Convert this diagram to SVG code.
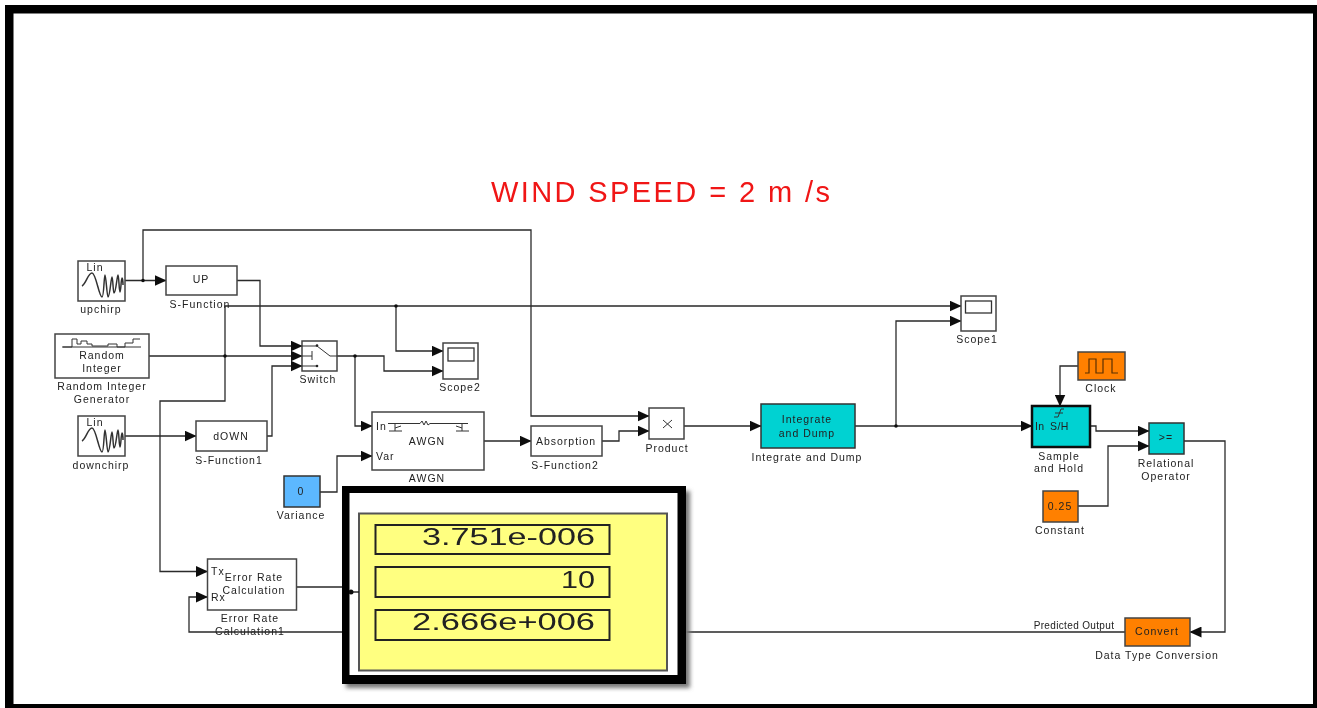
<svg xmlns="http://www.w3.org/2000/svg" xmlns:xlink="http://www.w3.org/1999/xlink" width="1317" height="708" viewBox="0 0 1317 708">
<style>
text{font-family:"Liberation Sans",Arial,sans-serif;font-size:10.5px;letter-spacing:1px;fill:#222;text-anchor:middle}
text.s{text-anchor:start}
text.n{font-size:10px;letter-spacing:.35px}
.b{fill:#fff;stroke:#444;stroke-width:1.5}
.c{fill:#00d2d2;stroke:#333;stroke-width:1.5}
.o{fill:#ff8000;stroke:#444;stroke-width:1.5}
.g{fill:none;stroke:#333;stroke-width:1}
.d{fill:#ffff80;stroke:#222;stroke-width:2}
#connectors path{fill:none;stroke:#2a2a2a;stroke-width:1.3}
#connectors path.a{marker-end:url(#ah)}
#connectors circle{fill:#111}
</style>
<defs>
<marker id="ah" markerUnits="userSpaceOnUse" markerWidth="12" markerHeight="11" refX="11.500" refY="5.500" orient="auto"><path d="M0 0L12 5.500L0 11Z" fill="#111"/></marker>
<filter id="soft" x="-2%" y="-2%" width="104%" height="104%"><feGaussianBlur stdDeviation="0.35"/></filter>
<filter id="sh" x="-5%" y="-5%" width="110%" height="110%"><feGaussianBlur stdDeviation="2"/></filter>
<path id="chirp" d="M4 25C8 23 10 12 14 12C18 12 21 36 24 36C26 36 26 14 27 14C28 14 29 36 30 36C32 36 33 16 34 16C35 16 35 32 36 32C38 32 39 14 40 14C41 14 41 31 42 31C43 31 43 17 44 17C44.500 17 45 22 45 24" fill="none" stroke="#333" stroke-width="1.500"/>
</defs>
<rect width="1317" height="708" fill="#fff"/>
<g filter="url(#soft)">
<g id="frame" fill="#000">
<rect x="5" y="5" width="1312" height="8.500"/>
<rect x="5" y="5" width="8.500" height="703"/>
<rect x="1313" y="5" width="4" height="703"/>
<rect x="5" y="704" width="1312" height="4"/>
</g>
<text id="title" x="491" y="202" class="s" style="font-size:29px;letter-spacing:2.400px;fill:#f01414">WIND SPEED = 2 m /s</text>

<g id="connectors">
<path class="a" d="M125 280.500H166"/>
<path class="a" d="M143 280.500V230H531V416H649"/>
<path class="a" d="M237 280.500H260V346H302"/>
<path class="a" d="M149 356H302"/>
<path class="a" d="M225 356V306H961"/>
<path class="a" d="M225 356V401H160V571.500H207.500"/>
<path class="a" d="M396 306V351H443"/>
<path class="a" d="M337 356H384V371H443"/>
<path class="a" d="M355 356V426H372"/>
<path class="a" d="M125 436H196"/>
<path class="a" d="M267 436H272V366H302"/>
<path class="a" d="M320 492H337V456H372"/>
<path class="a" d="M484 441H531"/>
<path class="a" d="M602 441H619V431H649"/>
<path class="a" d="M684 426H761"/>
<path class="a" d="M855 426H1032"/>
<path class="a" d="M896 426V321H961"/>
<path class="a" d="M1078 366H1060V406"/>
<path class="a" d="M1090 426H1096V431H1149"/>
<path class="a" d="M1078 506H1108V446H1149"/>
<path class="a" d="M1184 441H1225V632H1190"/>
<path class="a" d="M1125 632H189V597H207.500"/>
<path d="M296 587H345"/>
<circle cx="143" cy="280.500" r="1.800"/>
<circle cx="225" cy="356" r="1.800"/>
<circle cx="396" cy="306" r="1.800"/>
<circle cx="355" cy="356" r="1.800"/>
<circle cx="896" cy="426" r="1.800"/>
</g>

<g id="upchirp"><rect class="b" x="78" y="261" width="47" height="40"/><text x="95" y="271">Lin</text><use xlink:href="#chirp" href="#chirp" x="78" y="261"/><text x="101" y="313">upchirp</text></g>
<g id="s-function"><rect class="b" x="166" y="266" width="71" height="29"/><text x="201" y="283">UP</text><text x="200" y="308">S-Function</text></g>
<g id="random-integer"><rect class="b" x="55" y="334" width="94" height="44"/><path class="g" d="M63 347H72V339H77V344H81V341H87V344H92V346H108V344H117V347H125V343H133V339H140"/><path class="g" d="M62 347H141"/><text x="102" y="359">Random</text><text x="102" y="372">Integer</text><text x="102" y="390">Random Integer</text><text x="102" y="403">Generator</text></g>
<g id="downchirp"><rect class="b" x="78" y="416" width="47" height="40"/><text x="95" y="426">Lin</text><use xlink:href="#chirp" href="#chirp" x="78" y="416"/><text x="101" y="469">downchirp</text></g>
<g id="s-function1"><rect class="b" x="196" y="421" width="71" height="30"/><text x="231" y="440">dOWN</text><text x="229" y="464">S-Function1</text></g>
<g id="switch"><rect class="b" x="302" y="341" width="35" height="30"/><path class="g" d="M302 346H317L330 356H337M302 356H312M312 351V360M302 366H317"/><circle cx="317" cy="345.500" r="1.300" fill="#222"/><circle cx="317" cy="366" r="1.300" fill="#222"/><text x="318" y="383">Switch</text></g>
<g id="scope2"><rect class="b" x="443" y="343" width="35" height="36"/><rect x="448" y="348" width="26" height="13" fill="#fff" stroke="#333" stroke-width="1.300"/><text x="460" y="391">Scope2</text></g>
<g id="awgn"><rect class="b" x="372" y="412" width="112" height="58"/><text class="s" x="376" y="430">In</text><text class="s" x="376" y="460">Var</text><path class="g" d="M388 423.500H420L422 421L424 425L426 421L428 425L430 423.500H468M395 424V431M389 431H402M395 428L401 426M462 424V431M456 431H469M462 428L456 426"/><text x="427" y="445">AWGN</text><text x="427" y="482">AWGN</text></g>
<g id="variance"><rect x="284" y="476" width="36" height="31" fill="#5cb8ff" stroke="#333" stroke-width="1.500"/><text x="301" y="495">0</text><text x="301" y="519">Variance</text></g>
<g id="error-rate"><rect class="b" x="207.500" y="559" width="89" height="51"/><text class="s" x="211" y="575">Tx</text><text class="s" x="211" y="601">Rx</text><text x="254" y="581">Error Rate</text><text x="254" y="594">Calculation</text><text x="250" y="622">Error Rate</text><text x="250" y="635">Calculation1</text></g>
<g id="display">
<rect x="346" y="491" width="344" height="197" fill="#777" filter="url(#sh)"/>
<rect x="342" y="486" width="344" height="198" fill="#000"/>
<rect x="349.500" y="493" width="328" height="182" fill="#fff"/>
<rect x="359" y="513.500" width="308" height="157" fill="#ffff80" stroke="#555" stroke-width="2"/>
<path d="M350 592H359" stroke="#111" stroke-width="1.300"/><circle cx="351" cy="592" r="2.500" fill="#111"/>
<rect class="d" x="375.500" y="525" width="234" height="29"/>
<rect class="d" x="375.500" y="567" width="234" height="30"/>
<rect class="d" x="375.500" y="610" width="234" height="30"/>
<text class="s" x="422" y="545" style="font-size:24px;letter-spacing:0" textLength="173" lengthAdjust="spacingAndGlyphs">3.751e-006</text>
<text class="s" x="561" y="588" style="font-size:24px;letter-spacing:0" textLength="34" lengthAdjust="spacingAndGlyphs">10</text>
<text class="s" x="412" y="630" style="font-size:24px;letter-spacing:0" textLength="183" lengthAdjust="spacingAndGlyphs">2.666e+006</text>
</g>
<g id="absorption"><rect class="b" x="531" y="426" width="71" height="30"/><text x="566" y="445">Absorption</text><text x="565" y="469">S-Function2</text></g>
<g id="product"><rect class="b" x="649" y="408" width="35" height="31"/><path class="g" d="M663 420L672 428M672 420L663 428"/><text x="667" y="452">Product</text></g>
<g id="integrate"><rect class="c" x="761" y="404" width="94" height="44"/><text x="807" y="423">Integrate</text><text x="807" y="437">and Dump</text><text x="807" y="461">Integrate and Dump</text></g>
<g id="scope1"><rect class="b" x="961" y="296" width="35" height="35"/><rect x="965.500" y="301" width="26" height="12" fill="#fff" stroke="#333" stroke-width="1.300"/><text x="977" y="343">Scope1</text></g>
<g id="clock"><rect class="o" x="1078" y="352" width="47" height="28"/><path fill="none" stroke="#5a3000" stroke-width="1.200" d="M1085 373H1089V359H1096V373H1103V359H1112V373H1118"/><text x="1101" y="392">Clock</text></g>
<g id="sample-hold"><rect x="1032" y="406" width="58" height="41" fill="#00d2d2" stroke="#111" stroke-width="2.500"/><path class="g" d="M1054 417H1058L1061 409H1064M1055 413H1063"/><text class="s" x="1035" y="430" style="letter-spacing:.4px">In</text><text class="s" x="1050" y="430" style="letter-spacing:.4px">S/H</text><text x="1059" y="460">Sample</text><text x="1059" y="472">and Hold</text></g>
<g id="relational"><rect class="c" x="1149" y="423" width="35" height="31"/><text x="1166" y="441">&gt;=</text><text x="1166" y="467">Relational</text><text x="1166" y="480">Operator</text></g>
<g id="constant"><rect class="o" x="1043" y="491" width="35" height="31"/><text x="1060" y="510">0.25</text><text x="1060" y="534">Constant</text></g>
<g id="convert"><rect class="o" x="1125" y="618" width="65" height="28"/><text x="1157" y="635">Convert</text><text x="1157" y="659">Data Type Conversion</text></g>
<text class="n" x="1074" y="629">Predicted Output</text>
</g>
</svg>
